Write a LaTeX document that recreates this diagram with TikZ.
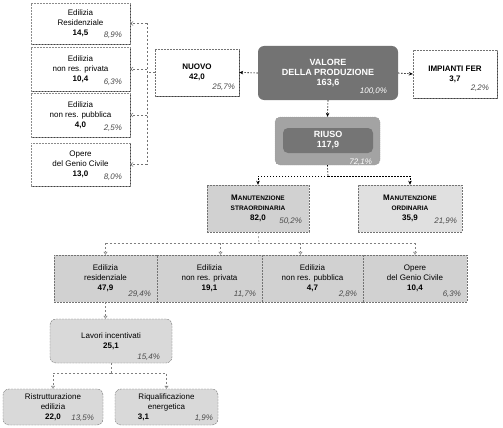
\documentclass[tikz,border=0pt]{standalone}
\usepackage{fontspec}
\setmainfont{Liberation Sans}
\usetikzlibrary{arrows.meta,calc,shadows}
\definecolor{valgray}{gray}{0.45}
\definecolor{riusoout}{gray}{0.64}
\definecolor{riusoin}{gray}{0.46}
\definecolor{msgray}{gray}{0.82}
\definecolor{mogray}{gray}{0.88}
\definecolor{rowgray}{gray}{0.82}
\definecolor{lavgray}{gray}{0.85}
\tikzset{
  every node/.style={font=\fontsize{8}{10}\selectfont, align=center, inner sep=0pt},
  boxshadow/.style={drop shadow={shadow xshift=1.4pt, shadow yshift=-1.4pt, fill=black!75, opacity=1}},
  sidebox/.style={draw=black!45, dash pattern=on 2pt off 1pt, fill=white, boxshadow},
  topbox/.style={sidebox, draw=black!55},
  valbox/.style={fill=valgray, rounded corners=6pt, text=white, font=\fontsize{9}{10}\selectfont\bfseries},
  riusobox/.style={fill=riusoout, draw=black!40, dash pattern=on 1pt off 1pt, rounded corners=5pt},
  riusocore/.style={fill=riusoin, rounded corners=5pt, text=white, font=\fontsize{9}{10}\selectfont\bfseries},
  manbox/.style={draw=black!55, dash pattern=on 2pt off 1pt},
  rowbox/.style={fill=rowgray, draw=black!55, dash pattern=on 2pt off 1pt},
  lavbox/.style={fill=lavgray, draw=black!55, dash pattern=on 2pt off 1pt, rounded corners=6pt},
  pct/.style={anchor=base east, font=\fontsize{8}{10}\selectfont\itshape, text=black!70},
  pctw/.style={pct, text=white},
  toplink/.style={draw=black, line width=0.6pt, dash pattern=on 1.5pt off 1.5pt},
  topto/.style={toplink, -{Stealth[length=4pt,width=3.5pt]}},
  sidelink/.style={draw=black!55, line width=0.5pt, dash pattern=on 2pt off 2pt},
  sideto/.style={sidelink, -{Straight Barb[length=2.5pt,width=4pt]}},
  lowlink/.style={draw=black!50, line width=0.5pt, dash pattern=on 2pt off 2pt},
  lowto/.style={lowlink, -{Triangle[open,length=3pt,width=4pt]}},
}
\newcommand{\capsfirst}[2]{#1{\fontsize{6.5}{10}\selectfont #2}}
\begin{document}
\begin{tikzpicture}[x=1pt,y=-1pt]
\useasboundingbox (0,0) rectangle (503,428);
% left column (NUOVO breakdown)
\node[sidebox, minimum width=99, minimum height=41] (res) at (80.5,23.5) {Edilizia\\Residenziale\\\textbf{14,5}};
\node[sidebox, minimum width=99, minimum height=44] (priv) at (80.5,69) {Edilizia\\non res. privata\\\textbf{10,4}};
\node[sidebox, minimum width=99, minimum height=44] (pubb) at (80.5,115) {Edilizia\\non res. pubblica\\\textbf{4,0}};
\node[sidebox, minimum width=99, minimum height=43] (genio) at (80.5,164.5) {Opere\\del Genio Civile\\\textbf{13,0}};
\node[pct] (resp) at ($(res.south east)+(-8,-7)$) {8,9\%};
\node[pct] (privp) at ($(priv.south east)+(-8,-7)$) {6,3\%};
\node[pct] (pubbp) at ($(pubb.south east)+(-8,-7)$) {2,5\%};
\node[pct] (geniop) at ($(genio.south east)+(-8,-7)$) {8,0\%};
% top row
\node[topbox, minimum width=84, minimum height=47] (nuovo) at (197,72.5) {\textbf{NUOVO}\\\textbf{42,0}};
\node[pct] (nuovop) at ($(nuovo.south east)+(-4,-7)$) {25,7\%};
\node[valbox, minimum width=140, minimum height=54] (valore) at (328,73) {VALORE\\DELLA PRODUZIONE\\163,6};
\node[pctw] (valorep) at ($(valore.south east)+(-11,-7)$) {100,0\%};
\node[topbox, minimum width=84, minimum height=48] (fer) at (455,74) {\textbf{IMPIANTI FER}\\\textbf{3,7}};
\node[pct] (ferp) at ($(fer.south east)+(-8,-8)$) {2,2\%};
% riuso
\node[riusobox, minimum width=105, minimum height=48] (riuso) at (327.5,141) {};
\node[riusocore, minimum width=90, minimum height=25] (riusoc) at (328,140.5) {RIUSO\\117,9};
\node[pctw] (riusop) at ($(riuso.south east)+(-8,-1)$) {72,1\%};
% manutenzione
\node[manbox, fill=msgray, minimum width=102, minimum height=47] (straord) at (258,208.5)
  {\textbf{\capsfirst{M}{ANUTENZIONE}}\\\textbf{\capsfirst{}{STRAORDINARIA}}\\\textbf{82,0}};
\node[pct] (straordp) at ($(straord.south east)+(-7,-9)$) {50,2\%};
\node[manbox, fill=mogray, minimum width=104, minimum height=47] (ordin) at (410,208.5)
  {\textbf{\capsfirst{M}{ANUTENZIONE}}\\\textbf{\capsfirst{}{ORDINARIA}}\\\textbf{35,9}};
\node[pct] (ordinp) at ($(ordin.south east)+(-5,-9)$) {21,9\%};
% straordinaria by sector
\node[rowbox, minimum width=103, minimum height=47] (sres) at (105.5,278.5) {Edilizia\\residenziale\\\textbf{47,9}};
\node[rowbox, minimum width=105, minimum height=47] (spriv) at (209.5,278.5) {Edilizia\\non res. privata\\\textbf{19,1}};
\node[rowbox, minimum width=101, minimum height=47] (spubb) at (312.5,278.5) {Edilizia\\non res. pubblica\\\textbf{4,7}};
\node[rowbox, minimum width=104, minimum height=47] (sgenio) at (415,278.5) {Opere\\del Genio Civile\\\textbf{10,4}};
\node[pct] (sresp) at ($(sres.south east)+(-6,-6)$) {29,4\%};
\node[pct] (sprivp) at ($(spriv.south east)+(-6,-6)$) {11,7\%};
\node[pct] (spubbp) at ($(spubb.south east)+(-6,-6)$) {2,8\%};
\node[pct] (sgeniop) at ($(sgenio.south east)+(-6,-6)$) {6,3\%};
% lavori incentivati
\node[lavbox, minimum width=122, minimum height=44] (lavori) at (111,341) {Lavori incentivati\\\textbf{25,1}};
\node[pct] (lavorip) at ($(lavori.south east)+(-12,-4)$) {15,4\%};
\node[lavbox, minimum width=100, minimum height=36] (ristr) at (53,407) {Ristrutturazione\\edilizia\\\textbf{22,0}};
\node[pct] (ristrp) at ($(ristr.south east)+(-9,-5)$) {13,5\%};
\node[lavbox, minimum width=103, minimum height=36] (riqu) at (166.5,407) {Riqualificazione\\energetica\\\textbf{3,1}\hspace*{46pt}};
\node[pct] (riqup) at ($(riqu.south east)+(-5,-5)$) {1,9\%};
% connectors
\coordinate (spine) at (147,72.5);
\draw[sidelink] (nuovo.west) -- (spine);
\draw[sidelink] (spine |- res.east) -- (spine |- genio.east);
\foreach \b in {res,priv,pubb,genio}
  \draw[sideto] (spine |- \b.east) -- (\b.east);
\draw[topto] (valore.west) -- (nuovo.east);
\draw[topto] (valore.east) -- (fer.west);
\draw[topto] (valore.south) -- (riuso.north);
\coordinate (fork1) at (328,176);
\draw[toplink] (riuso.south) -- (fork1);
\draw[topto] (fork1) -| (straord.north);
\draw[topto] (fork1) -| (ordin.north);
\coordinate (fork2) at (259,243);
\coordinate (sprivin) at ([xshift=11pt]spriv.north);
\coordinate (spubbin) at ([xshift=-12pt]spubb.north);
\draw[lowlink] (straord.south) -- (fork2);
\draw[lowlink] (fork2 -| sres.north) -- (fork2 -| sgenio.north);
\foreach \b in {sres,sprivin,spubbin,sgenio}
  \draw[lowto] (fork2 -| \b) -- (\b |- sres.north);
\draw[lowto] (sres.south) -- (sres.south |- lavori.north);
\coordinate (fork3) at (111,373);
\draw[lowlink] (lavori.south) -- (fork3);
\draw[lowto] (fork3) -| (ristr.north);
\draw[lowto] (fork3) -| (riqu.north);
\end{tikzpicture}
\end{document}
